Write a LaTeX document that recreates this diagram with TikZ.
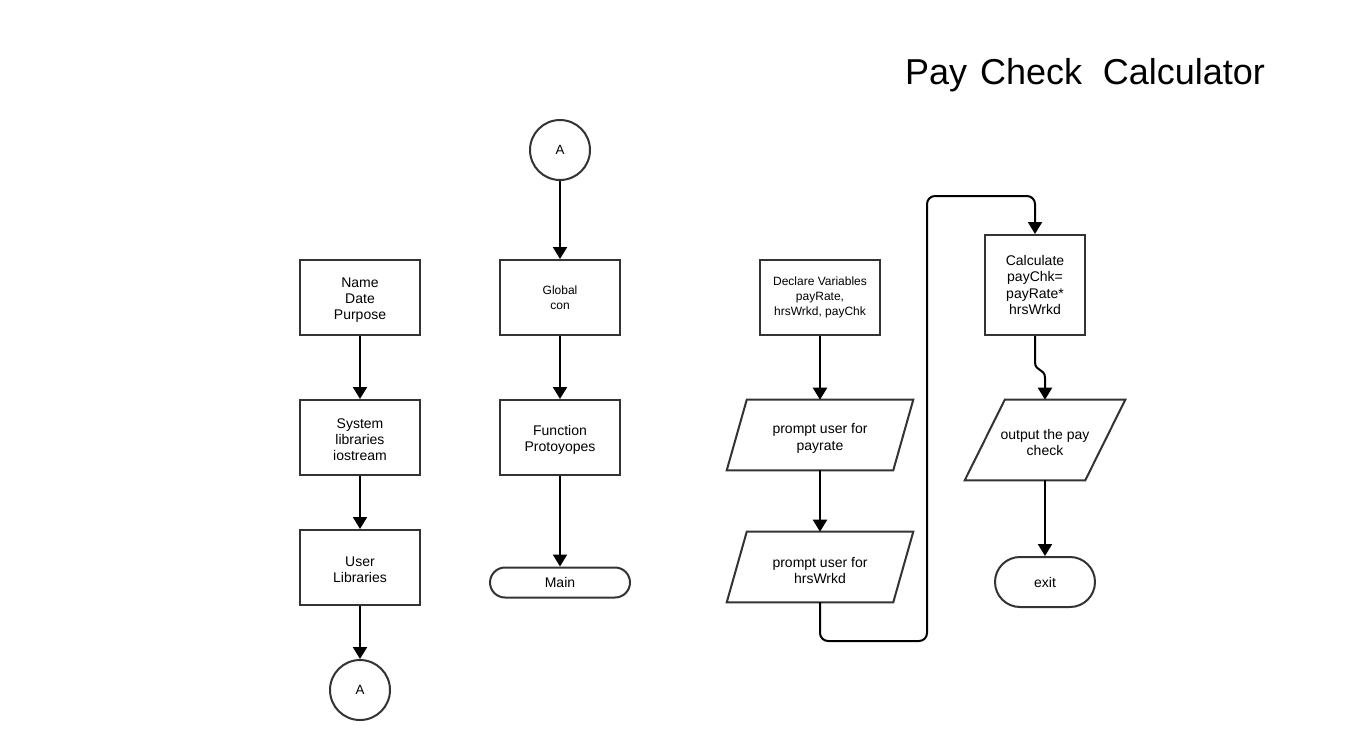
\documentclass[tikz,border=0pt]{standalone}
\usepackage{fontspec}
\setmainfont{Liberation Sans}
\usetikzlibrary{arrows.meta}
\definecolor{bord}{HTML}{333333}
\begin{document}
\begin{tikzpicture}[x=0.75pt,y=-0.75pt,
  box/.style={draw=bord,line width=1.5pt,minimum width=90pt,minimum height=56.25pt,align=center,inner sep=2pt,font=\fontsize{10.5}{12.2}\selectfont},
  smalltext/.style={font=\fontsize{9}{11.25}\selectfont},
  conn/.style={circle,draw=bord,line width=1.5pt,minimum size=45pt,inner sep=0pt,font=\fontsize{10}{12}\selectfont},
  io/.style={align=center,inner sep=0pt,font=\fontsize{10.5}{12.2}\selectfont},
  shp/.style={draw=bord,line width=1.5pt,line join=miter},
  arr/.style={-{Triangle[length=9pt,width=10.5pt]},line width=1.5pt,black}]
\fill[white] (0,0) rectangle (1348,740);
\useasboundingbox (0,0) rectangle (1348,740);

\node[font=\fontsize{27}{30}\selectfont,inner sep=0pt] (title) at (1085,75) {Pay\hspace{0.36em}Check\hspace{0.58em}Calculator};

% column 1
\node[box] (name) at (360,297.5) {\rule{0pt}{11.5pt}Name\\Date\\Purpose};
\node[box] (sys) at (360,437.5) {\rule{0pt}{10.5pt}System\\libraries\\iostream};
\node[box] (user) at (360,567.5) {\rule{0pt}{10.5pt}User\\Libraries};
\node[conn] (a1) at (360,690) {A};

% column 2
\node[conn] (a2) at (560,150) {A};
\node[box,smalltext] (glob) at (560,297.5) {Global\\con};
\node[box] (func) at (560,437.5) {\rule{0pt}{11.5pt}Function\\Protoyopes};
\node[draw=bord,line width=1.5pt,minimum width=105pt,minimum height=22.5pt,rounded corners=11.25pt,inner sep=0pt,font=\fontsize{10.5}{12.2}\selectfont] (main) at (560,582.5) {Main};

% column 3
\node[box,smalltext] (decl) at (820,297.5) {Declare Variables\\payRate,\\hrsWrkd, payChk};
\node[io,minimum width=139.5pt,minimum height=52.5pt] (pay) at (820,435) {\rule{0pt}{12.5pt}prompt user for\\payrate};
\node[io,minimum width=139.5pt,minimum height=52.5pt] (hrs) at (820,567) {\rule{0pt}{12.5pt}prompt user for\\hrsWrkd};
\draw[shp] ([xshift=15pt]pay.north west) -- (pay.north east) -- ([xshift=-15pt]pay.south east) -- (pay.south west) -- cycle;
\draw[shp] ([xshift=15pt]hrs.north west) -- (hrs.north east) -- ([xshift=-15pt]hrs.south east) -- (hrs.south west) -- cycle;

% column 4
\node[box,minimum width=75pt,minimum height=75pt,font=\fontsize{10.5}{12.25}\selectfont] (calc) at (1035,285) {Calculate\\payChk=\\payRate*\\hrsWrkd};
\node[io,minimum width=120pt,minimum height=60pt] (out) at (1045,440) {\rule{0pt}{11pt}output the pay\\check};
\draw[shp] ([xshift=30pt]out.north west) -- (out.north east) -- ([xshift=-30pt]out.south east) -- (out.south west) -- cycle;
\node[draw=bord,line width=1.5pt,minimum width=75pt,minimum height=37.5pt,rounded corners=18.75pt,inner sep=0pt,font=\fontsize{10.5}{12.2}\selectfont] (exit) at (1045,582) {exit};

% connectors
\draw[arr] (name) -- (sys);
\draw[arr] (sys) -- (user);
\draw[arr] (user) -- (a1);
\draw[arr] (a2) -- (glob);
\draw[arr] (glob) -- (func);
\draw[arr] (func) -- (main);
\draw[arr] (decl) -- (pay);
\draw[arr] (pay) -- (hrs);
\draw[arr,rounded corners=6pt] (hrs.south) -- (820,641) -- (927,641) -- (927,196) -- (1035,196) -- (calc.north);
\draw[arr] (calc.south) -- (1035,362) .. controls (1035,372) and (1045,368) .. (1045,378) -- (out.north);
\draw[arr] (out.south) -- (exit.north);
\end{tikzpicture}
\end{document}
